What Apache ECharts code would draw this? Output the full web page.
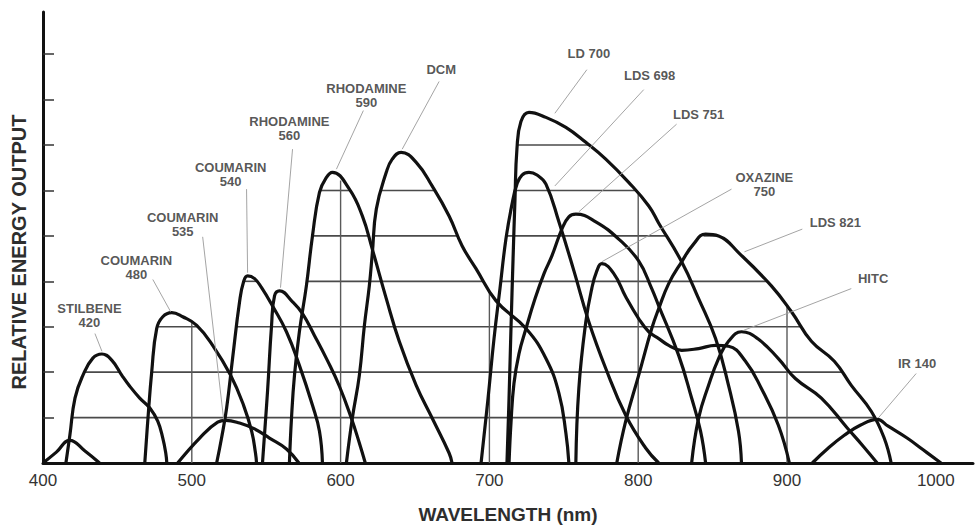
<!DOCTYPE html>
<html>
<head>
<meta charset="utf-8">
<script src="https://cdn.jsdelivr.net/npm/echarts@6/dist/echarts.min.js"></script>
<style>
html,body{margin:0;padding:0;background:#fff;}
#chart{width:976px;height:529px;}
</style>
</head>
<body>
<div id="chart"></div>
<script>
// ---- axis ticks ----
const xTickValues = [400, 500, 600, 700, 800, 900, 1000];
const yTickValues = [1, 2, 3, 4, 5, 6, 7, 8, 9];
const gridLevels = [1, 2, 3, 4, 5, 6, 7, 8, 9];
const gridColumns = [500, 600, 700, 800, 900];

// ---- tuning curves: [wavelength nm, relative output] ----
const stilbeneShort = [[400,0],[409,0.24],[418,0.5],[428,0.27],[438,0]];
const stilbene420 = [[415.4,0],[418.1,0.62],[421.5,1.43],[426.8,1.93],[433.5,2.31],[439.6,2.40],[446.3,2.26],[453.0,1.93],[458.3,1.69],[465.0,1.43],[471.8,1.21],[477.1,0.92],[480.5,0.55],[482.5,0.22],[483.2,0]];
const coumarin480 = [[468.4,0],[470.4,0.92],[473.1,2.02],[476.4,2.96],[480.5,3.22],[486.5,3.31],[493.9,3.22],[503.3,3.03],[514.0,2.59],[526.1,1.93],[534.8,1.27],[540.2,0.70],[542.8,0.22],[543.5,0]];
const coumarin535 = [[490.5,0],[505.3,0.55],[517.4,0.90],[522.7,0.94],[532.1,0.88],[542.2,0.75],[552.2,0.55],[563.6,0.31],[572.0,0]];
const coumarin540 = [[516.7,0],[520.0,0.55],[523.4,1.21],[527.4,2.30],[532.1,3.55],[534.8,3.99],[537.5,4.12],[542.2,4.06],[546.9,3.86],[554.2,3.46],[563.6,2.89],[572.3,2.15],[581.1,1.27],[585.8,0.70],[587.8,0]];
const rhodamine560 = [[547.5,0],[550.9,1.58],[553.6,3.03],[555.6,3.68],[558.9,3.79],[567.7,3.55],[574.4,3.29],[582.4,2.81],[591.1,2.26],[599.2,1.69],[607.2,0.99],[612.6,0.44],[616.6,0]];
const rhodamine590 = [[565.6,0],[567.0,0.99],[569.0,1.93],[572.3,2.89],[577.0,3.90],[581.1,5.00],[585.8,5.96],[590.5,6.29],[594.5,6.40],[605.9,6.03],[614.6,5.44],[621.3,4.71],[630.7,3.62],[639.4,2.68],[650.8,1.71],[661.5,0.99],[672.9,0.22],[674.9,0]];
const dcm = [[603.9,0],[607.9,0.99],[612.6,1.93],[616.0,3.03],[619.3,3.90],[621.3,4.61],[624.0,5.59],[630.7,6.40],[634.7,6.69],[640.7,6.84],[650.8,6.62],[661.5,6.10],[672.9,5.44],[681.7,4.78],[691.0,4.28],[704.5,3.57],[724.6,2.96],[738.0,2.30],[746.7,1.54],[751.4,0.66],[753.4,0]];
const lds698 = [[694.4,0],[699.1,1.43],[703.1,2.74],[707.1,3.84],[711.1,4.93],[715.2,5.70],[718.5,6.14],[721.9,6.34],[726.6,6.40],[732.0,6.34],[738.0,6.14],[746.7,5.31],[756.8,4.23],[766.8,3.11],[778.2,2.08],[791.6,1.05],[805.0,0.33],[813.8,0]];
const ld700 = [[711.8,0],[713.2,1.43],[714.5,2.96],[715.9,4.50],[717.2,5.81],[718.5,6.91],[721.2,7.52],[726.6,7.72],[738.0,7.61],[751.4,7.39],[764.8,7.06],[778.2,6.69],[793.6,6.18],[807.1,5.66],[813.8,5.28],[829.2,4.43],[840.6,3.62],[852.0,2.74],[860.7,1.71],[867.4,0.70],[869.4,0]];
const lds751 = [[713.2,0],[714.5,0.88],[716.5,1.75],[719.9,2.41],[724.6,2.96],[730.7,3.62],[736.7,4.17],[742.0,4.56],[748.7,5.15],[753.4,5.42],[758.1,5.48],[771.5,5.31],[786.9,4.93],[800.3,4.45],[809.1,3.84],[813.8,3.46],[827.2,2.37],[835.9,1.43],[841.9,0.70],[845.3,0]];
const oxazine750 = [[758.1,0],[760.1,1.64],[764.8,3.11],[768.8,3.84],[772.2,4.23],[775.5,4.39],[783.6,4.17],[791.6,3.66],[800.3,3.18],[807.1,2.89],[813.8,2.74],[820.5,2.59],[829.2,2.48],[840.6,2.52],[852.0,2.59],[860.7,2.57],[872.1,2.24],[882.8,1.64],[894.2,0.83],[901.6,0]];
const lds821 = [[785.6,0],[791.6,0.92],[800.3,1.93],[809.1,2.96],[813.8,3.40],[820.5,3.95],[829.2,4.43],[837.2,4.82],[845.3,5.04],[854.0,5.00],[868.1,4.61],[889.5,3.90],[903.0,3.33],[916.4,2.68],[931.8,2.24],[943.2,1.71],[956.6,1.14],[965.3,0.55],[970.0,0]];
const hitc = [[835.9,0],[840.6,0.99],[847.3,1.71],[854.0,2.30],[860.7,2.68],[869.4,2.89],[880.2,2.74],[894.2,2.30],[905.6,1.86],[923.1,1.43],[940.5,0.77],[951.2,0.37],[960.6,0]];
const ir140 = [[917.0,0],[927.8,0.33],[938.5,0.61],[949.2,0.83],[960.6,0.96],[968.0,0.81],[980.7,0.55],[991.5,0.29],[1003.5,0]];

const curveList = [
  {name: 'Stilbene (short)', data: stilbeneShort},
  {name: 'Stilbene 420', data: stilbene420},
  {name: 'Coumarin 480', data: coumarin480},
  {name: 'Coumarin 535', data: coumarin535},
  {name: 'Coumarin 540', data: coumarin540},
  {name: 'Rhodamine 560', data: rhodamine560},
  {name: 'Rhodamine 590', data: rhodamine590},
  {name: 'DCM', data: dcm},
  {name: 'LDS 698', data: lds698},
  {name: 'LD 700', data: ld700},
  {name: 'LDS 751', data: lds751},
  {name: 'Oxazine 750', data: oxazine750},
  {name: 'LDS 821', data: lds821},
  {name: 'HITC', data: hitc},
  {name: 'IR 140', data: ir140}
];

// ---- annotations (data coordinates): text, text centre, leader start, leader end ----
const labelTexts   = ['STILBENE\n420','COUMARIN\n480','COUMARIN\n535','COUMARIN\n540','RHODAMINE\n560','RHODAMINE\n590','DCM','LD 700','LDS 698','LDS 751','OXAZINE\n750','LDS 821','HITC','IR 140'];
const labelCenters = [[431.2,3.25],[462.7,4.30],[493.9,5.26],[526.1,6.36],[565.6,7.37],[617.3,8.09],[667.6,8.66],[766.8,9.01],[807.7,8.53],[840.6,7.68],[884.8,6.14],[932.5,5.29],[957.9,4.06],[987.4,2.19]];
const leaderFrom   = [[434.9,2.85],[473.8,4.04],[507.3,4.98],[536.8,6.03],[567.7,6.91],[615.3,7.76],[666.2,8.40],[765.5,8.66],[803.7,8.22],[825.8,7.46],[862.7,6.03],[910.3,5.15],[943.2,3.84],[986.8,1.97]];
const leaderTo     = [[439.6,2.46],[485.8,3.33],[521.4,0.96],[537.5,4.19],[559.6,3.86],[597.2,6.47],[641.4,6.91],[744.0,7.70],[744.0,6.10],[760.1,5.53],[775.5,4.43],[871.4,4.65],[870.8,2.92],[961.3,0.99]];

// ---- envelope of all curves (linear between read points) for clipping the grid ----
function valueAt(curve, x) {
  const n = curve.length;
  if (x <= curve[0][0] || x >= curve[n - 1][0]) return 0;
  for (let i = 1; i < n; i++) {
    if (x <= curve[i][0]) {
      const x0 = curve[i - 1][0], y0 = curve[i - 1][1], x1 = curve[i][0], y1 = curve[i][1];
      return y0 + (y1 - y0) * (x - x0) / (x1 - x0);
    }
  }
  return 0;
}
function envelope(x) {
  let m = 0;
  for (const c of curveList) m = Math.max(m, valueAt(c.data, x));
  return m;
}
function crossing(a, b, level) {
  const sa = envelope(a) > level;
  for (let i = 0; i < 30; i++) {
    const m = (a + b) / 2;
    if ((envelope(m) > level) === sa) a = m; else b = m;
  }
  return (a + b) / 2;
}
const hSegments = [];
for (const level of gridLevels) {
  let inside = false, start = 0, prev = 400;
  for (let i = 0; i <= 3125; i++) {
    const x = 400 + i * 0.2;
    const on = envelope(x) > level;
    if (on && !inside) { start = i === 0 ? x : crossing(prev, x, level); inside = true; }
    else if (!on && inside) { hSegments.push([start, crossing(prev, x, level), level]); inside = false; }
    prev = x;
  }
  if (inside) hSegments.push([start, 1025, level]);
}
const vSegments = gridColumns.map(x => [x, envelope(x)]);

const chart = echarts.init(document.getElementById('chart'), null, {renderer: 'svg'});

const option = {
  animation: false,
  backgroundColor: '#fff',
  grid: {left: 43, top: 12, width: 932, height: 453, containLabel: false},
  xAxis: {
    type: 'value', min: 400, max: 1025, interval: 100,
    name: 'WAVELENGTH (nm)', nameLocation: 'middle', nameGap: 42,
    nameTextStyle: {fontFamily: 'Liberation Sans, Arial, sans-serif', fontSize: 19, fontWeight: 'bold', color: '#2e2e2e'},
    axisLine: {show: true, onZero: false, lineStyle: {color: '#111', width: 3}},
    axisTick: {show: false},
    splitLine: {show: false},
    axisLabel: {
      margin: 9, fontFamily: 'Liberation Sans, Arial, sans-serif', fontSize: 17, color: '#333',
      formatter: v => xTickValues.includes(v) ? String(v) : ''
    }
  },
  yAxis: {
    type: 'value', min: 0, max: 9.93, interval: 1,
    name: 'RELATIVE ENERGY OUTPUT', nameLocation: 'middle', nameGap: 14,
    nameTextStyle: {fontFamily: 'Liberation Sans, Arial, sans-serif', fontSize: 20, fontWeight: 'bold', color: '#2e2e2e', padding: [0, 29, 0, 0]},
    axisLine: {show: true, lineStyle: {color: '#111', width: 3}},
    axisTick: {show: true, inside: true, length: 11, customValues: yTickValues, lineStyle: {color: '#333', width: 1.5}},
    axisLabel: {show: false},
    splitLine: {show: false}
  },
  series: [
    {
      type: 'custom', name: 'grid-h', z: 1, silent: true,
      data: hSegments,
      renderItem: (params, api) => {
        const p1 = api.coord([api.value(0), api.value(2)]);
        const p2 = api.coord([api.value(1), api.value(2)]);
        return {type: 'line', shape: {x1: p1[0], y1: p1[1], x2: p2[0], y2: p2[1]}, style: {stroke: '#4a4a4a', lineWidth: 1.6}};
      }
    },
    {
      type: 'custom', name: 'grid-v', z: 1, silent: true,
      data: vSegments,
      renderItem: (params, api) => {
        const p1 = api.coord([api.value(0), 0]);
        const p2 = api.coord([api.value(0), api.value(1)]);
        return {type: 'line', shape: {x1: p1[0], y1: p1[1], x2: p2[0], y2: p2[1]}, style: {stroke: '#5a5a5a', lineWidth: 1.4}};
      }
    },
    ...curveList.map(c => ({
      type: 'line', name: c.name, data: c.data, z: 3, silent: true,
      smooth: 0.45, showSymbol: false, symbol: 'none',
      lineStyle: {color: '#111', width: 3.2}
    })),
    {
      type: 'custom', name: 'leaders', z: 4, silent: true,
      data: leaderFrom.map((f, i) => [f[0], f[1], leaderTo[i][0], leaderTo[i][1]]),
      renderItem: (params, api) => {
        const p1 = api.coord([api.value(0), api.value(1)]);
        const p2 = api.coord([api.value(2), api.value(3)]);
        return {type: 'line', shape: {x1: p1[0], y1: p1[1], x2: p2[0], y2: p2[1]}, style: {stroke: '#9a9a9a', lineWidth: 0.9}};
      }
    },
    {
      type: 'scatter', name: 'labels', z: 5, silent: true,
      symbolSize: 0,
      data: labelCenters.map((p, i) => ({value: p, name: labelTexts[i]})),
      label: {
        show: true, position: 'inside', formatter: p => p.name,
        fontFamily: 'Liberation Sans, Arial, sans-serif', fontSize: 13, fontWeight: 'bold',
        color: '#2b2b2b', lineHeight: 14, align: 'center', verticalAlign: 'middle'
      }
    }
  ]
};
chart.setOption(option);
</script>
</body>
</html>
